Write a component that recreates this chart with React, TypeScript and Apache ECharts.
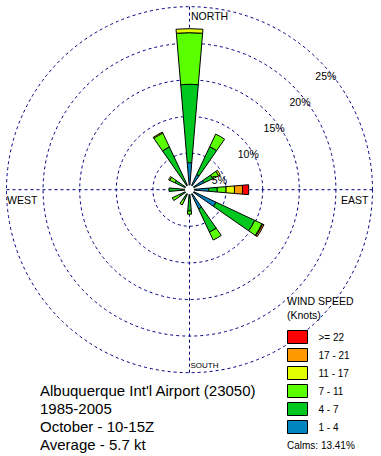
import React, { useEffect, useRef } from 'react';
import * as echarts from 'echarts';

// 12 wind directions (degrees, clockwise from north)
const directions = ['0', '30', '60', '90', '120', '150', '180', '210', '240', '270', '300', '330'];

// percent frequency per speed class (knots)
const speed1to4 = [3.7, 2.3, 2.2, 2.6, 4.0, 2.9, 1.0, 0.6, 0.5, 0.5, 0.6, 0.8];
const speed4to7 = [10.7, 4.2, 1.3, 1.2, 5.85, 3.5, 1.9, 0.9, 1.0, 2.3, 1.6, 5.65];
const speed7to11 = [7.05, 1.9, 0.9, 1.2, 1.1, 1.2, 0.45, 0.8, 1.1, 0, 0.8, 2.1];
const speed11to17 = [0.55, 0, 0.25, 1.15, 0.1, 0, 0, 0, 0, 0, 0.15, 0.15];
const speed17to21 = [0, 0, 0, 1.1, 0.2, 0, 0, 0, 0, 0, 0, 0];
const speed22plus = [0, 0, 0, 0.85, 0, 0, 0, 0, 0, 0, 0, 0];

const speedBins = ['1 - 4', '4 - 7', '7 - 11', '11 - 17', '17 - 21', '>= 22'];
const binColors = ['#0085C0', '#00C81E', '#5AFF00', '#E1FF00', '#FF9900', '#FF0000'];
const binValues = [speed1to4, speed4to7, speed7to11, speed11to17, speed17to21, speed22plus];

const ringMax = 25;
const ringStep = 5;

const titleLines = ["Albuquerque Int'l Airport (23050)", '1985-2005', 'October - 10-15Z', 'Average - 5.7 kt'];
const legendTitle = 'WIND SPEED\n(Knots)';
const calmsText = 'Calms: 13.41%';

export default function App() {
  const ref = useRef<HTMLDivElement>(null);
  useEffect(() => {
    const chart = echarts.init(ref.current!, null, { renderer: 'svg' });
    const font = "'Liberation Sans', Arial, sans-serif";
    const C = [189.5, 189.7];
    const R = 183;
    const dashed = { color: '#000080', width: 1, type: [3, 3] };
    const hidden = { show: false };
    chart.setOption({
      animation: false,
      backgroundColor: '#ffffff',
      textStyle: { fontFamily: font },
      polar: [
        { center: C, radius: R },
        { center: C, radius: R },
        { center: C, radius: R },
      ],
      angleAxis: [
        {
          polarIndex: 0, type: 'category', data: directions, startAngle: 105,
          axisLine: hidden, axisTick: hidden, axisLabel: hidden, splitLine: hidden,
        },
        {
          polarIndex: 1, type: 'value', min: 0, max: 360, interval: 90, startAngle: 90,
          axisLine: hidden, axisTick: hidden, axisLabel: hidden,
          splitLine: { show: true, lineStyle: dashed },
        },
        {
          polarIndex: 2, type: 'value', min: 0, max: 360, startAngle: 45,
          axisLine: hidden, axisTick: hidden, axisLabel: hidden, splitLine: hidden,
        },
      ],
      radiusAxis: [
        {
          polarIndex: 0, type: 'value', min: 0, max: ringMax, interval: ringStep,
          axisLine: hidden, axisTick: hidden, axisLabel: hidden,
          splitLine: { show: true, lineStyle: dashed },
        },
        {
          polarIndex: 1, type: 'value', min: 0, max: ringMax, interval: ringStep,
          axisLine: hidden, axisTick: hidden, axisLabel: hidden, splitLine: hidden,
        },
        {
          polarIndex: 2, type: 'value', min: 0, max: ringMax, interval: ringStep,
          z: 20,
          axisLine: hidden, axisTick: hidden, splitLine: hidden,
          axisLabel: {
            show: true,
            formatter: (v: number) => (v === 0 ? '' : v + '%'),
            margin: 5,
            align: 'left',
            verticalAlign: 'top',
            padding: [14, 0, 0, 0],
            fontSize: 10.5,
            color: '#000',
            fontFamily: font,
          },
        },
      ],
      legend: {
        orient: 'vertical',
        left: 287,
        top: 330,
        padding: 0,
        itemWidth: 20,
        itemHeight: 13,
        itemGap: 4,
        icon: 'rect',
        selectedMode: false,
        data: speedBins.slice().reverse(),
        itemStyle: { borderColor: '#000', borderWidth: 1 },
        textStyle: { fontSize: 10, lineHeight: 12, color: '#000', fontFamily: font, padding: [0, 0, 0, 6] },
      },
      title: [
        {
          text: titleLines.join('\n'), left: 40, top: 381.5, padding: 0,
          textStyle: { fontSize: 15, lineHeight: 18, fontWeight: 'normal', color: '#000', fontFamily: font },
        },
        {
          text: legendTitle, left: 287, top: 293.5, padding: 0,
          textStyle: { fontSize: 10.5, lineHeight: 14.5, fontWeight: 'normal', color: '#000', fontFamily: font },
        },
        {
          text: calmsText, left: 287, top: 440, padding: 0,
          textStyle: { fontSize: 10, fontWeight: 'normal', color: '#000', fontFamily: font },
        },
      ],
      graphic: [
        { type: 'circle', shape: { cx: C[0], cy: C[1], r: 4.5 }, style: { fill: '#fff' }, z: 100 },
        { type: 'text', x: 191, y: 16, style: { text: 'NORTH', font: `10.5px ${font}`, fill: '#000', verticalAlign: 'middle' }, z: 100 },
        { type: 'text', x: 190.5, y: 365, style: { text: 'SOUTH', font: `8px ${font}`, fill: '#000', verticalAlign: 'middle' }, z: 100 },
        { type: 'text', x: 7, y: 200, style: { text: 'WEST', font: `10.5px ${font}`, fill: '#000', verticalAlign: 'middle' }, z: 100 },
        { type: 'text', x: 341, y: 200, style: { text: 'EAST', font: `10.5px ${font}`, fill: '#000', verticalAlign: 'middle' }, z: 100 },
      ],
      series: speedBins.map((name, i) => ({
        name,
        type: 'bar',
        coordinateSystem: 'polar',
        polarIndex: 0,
        stack: 'wind',
        barWidth: '32%',
        itemStyle: { color: binColors[i], borderColor: '#000', borderWidth: 1 },
        data: binValues[i].map((v) => (v > 0 ? v : null)),
      })),
    });
    return () => chart.dispose();
  }, []);
  return (
    <div
      ref={ref}
      style={{ position: 'absolute', left: 0, top: 0, width: 381, height: 456, background: '#fff' }}
    />
  );
}
